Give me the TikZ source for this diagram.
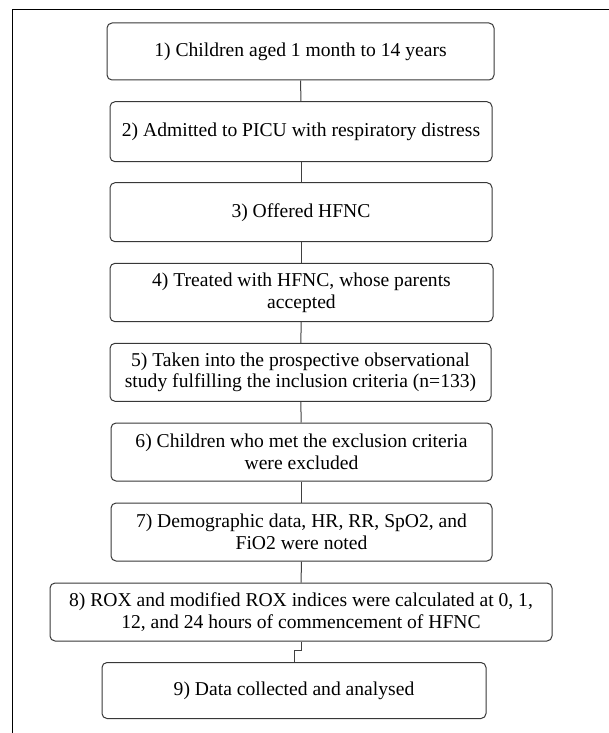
\documentclass[tikz,border=0pt]{standalone}
\usepackage{fontspec}
\setmainfont{Liberation Serif}
\begin{document}
\begin{tikzpicture}[x=1pt,y=-1pt,
  box/.style={draw=black!78, line width=1pt, rounded corners=5pt, fill=white,
    align=center, inner sep=0pt, font=\fontsize{19.6}{21.7}\selectfont},
  link/.style={draw=black!75, line width=1pt},
  frame/.style={draw=black, line width=1pt}]
\useasboundingbox (0,0) rectangle (609,733);
\coordinate (fb) at (12.7,733);
\coordinate (ft) at (12.7,10);
\coordinate (fr) at (609,10);
\draw[frame] (fb) -- (ft) -- (fr);
\node[box, minimum width=387pt, minimum height=57pt] (b1) at (300.5,51.5) {1) Children aged 1 month to 14 years};
\node[box, minimum width=382pt, minimum height=60pt] (b2) at (301,131.7) {2) Admitted to PICU with respiratory distress};
\node[box, minimum width=382pt, minimum height=59pt] (b3) at (301,212.2) {3) Offered HFNC};
\node[box, minimum width=383pt, minimum height=58.4pt] (b4) at (301.5,292.5) {4) Treated with HFNC, whose parents\\accepted};
\node[box, minimum width=381pt, minimum height=58pt] (b5) at (300.5,372.3) {5) Taken into the prospective observational\\study fulfilling the inclusion criteria (n=133)};
\node[box, minimum width=381pt, minimum height=58pt] (b6) at (301.5,452) {6) Children who met the exclusion criteria\\were excluded};
\node[box, minimum width=381pt, minimum height=58pt] (b7) at (301.5,532) {7) Demographic data, HR, RR, SpO2, and\\FiO2 were noted};
\node[box, minimum width=502pt, minimum height=58pt] (b8) at (301,612) {8) ROX and modified ROX indices were calculated at 0, 1,\\12, and 24 hours of commencement of HFNC};
\node[box, minimum width=384pt, minimum height=56pt] (b9) at (294,690.5) {9) Data collected and analysed};
\draw[link] (b1) -- (b2);
\draw[link] (b2) -- (b3);
\draw[link] (b3.south -| b4.north) -- (b4);
\draw[link] (b4) -- (b5);
\draw[link] (b5) -- (b6);
\draw[link] (b6) -- (b7);
\draw[link] (b7) -- (b8);
\coordinate (j1) at (301,650);
\coordinate (j2) at (294,650);
\draw[link] (b8.south) -- (j1) -- (j2) -- (b9.north);
\end{tikzpicture}
\end{document}
